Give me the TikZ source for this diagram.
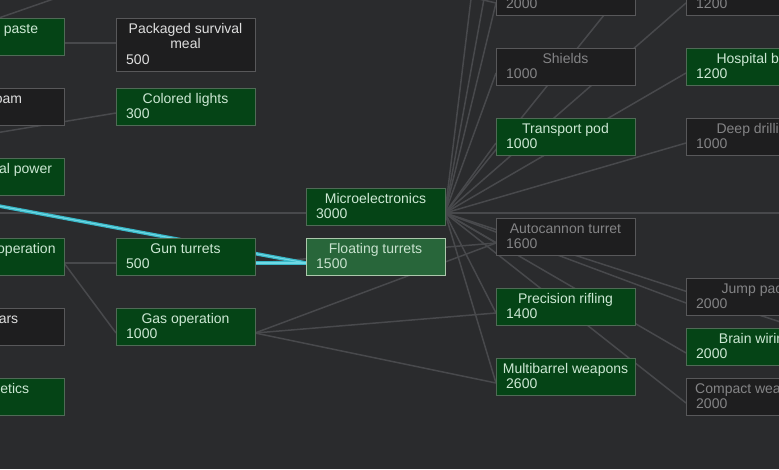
\documentclass[tikz,border=0pt]{standalone}
\usepackage{fontspec}
\setmainfont{Liberation Sans}
\usetikzlibrary{calc}

\definecolor{bg}{RGB}{42,43,45}
\definecolor{donefill}{RGB}{5,68,22}
\definecolor{doneline}{RGB}{80,106,86}
\definecolor{donetext}{RGB}{205,232,212}
\definecolor{openfill}{RGB}{30,30,31}
\definecolor{openline}{RGB}{88,88,90}
\definecolor{opentext}{RGB}{222,222,222}
\definecolor{lockedtext}{RGB}{132,132,134}
\definecolor{pickfill}{RGB}{40,102,58}
\definecolor{pickline}{RGB}{172,200,172}
\definecolor{picktext}{RGB}{200,226,206}
\definecolor{wire}{RGB}{72,73,76}
\definecolor{glow}{RGB}{56,184,200}
\definecolor{glowcore}{RGB}{112,216,228}

\pgfdeclarelayer{back}
\pgfsetlayers{back,main}

% one research box: name, x, top, box style, text colour, title, cost
\newcommand{\tech}[7]{
  \node[box,#4] (#1) at (#2,#3) {};
  \node[title,text=#5] (#1-t) at ({#2+69.5},{#3+15}) {#6};
  \node[cost,text=#5] (#1-c) at ({#2+10},{#3+30}) {#7};
  \coordinate (#1-in) at (#2,{#3+25});
  \coordinate (#1-out) at ({#2+139},{#3+25});
}

\begin{document}
\begin{tikzpicture}[x=1pt, y=-1pt,
  box/.style={anchor=north west, minimum width=139pt, minimum height=37pt,
    inner sep=0pt, line width=1pt},
  done/.style={fill=donefill, draw=doneline},
  open/.style={fill=openfill, draw=openline},
  picked/.style={fill=pickfill, draw=pickline},
  title/.style={anchor=base, inner sep=0pt, font=\fontsize{14}{16}\selectfont},
  cost/.style={anchor=base west, inner sep=0pt, font=\fontsize{14}{16}\selectfont},
  link/.style={draw=wire, line width=1.5pt},
  lit/.style={draw=glow, line width=3.6pt},
  litcore/.style={draw=glowcore, line width=1.1pt}]
  \useasboundingbox (0,0) rectangle (779,469);
  \clip (0,0) rectangle (779,469);

  % column 1 (cut off at the left edge)
  \tech{paste}{-75}{18}{done}{donetext}{Nutrient paste}{}
  \tech{foam}{-75}{88}{open}{opentext}{Firefoam}{}
  \tech{geo}{-75}{158}{done}{donetext}{Geothermal power}{}
  \tech{blow}{-75}{238}{done}{donetext}{Blowback operation}{}
  \tech{mortar}{-75}{308}{open}{opentext}{Mortars}{}
  \tech{prost}{-75}{378}{done}{donetext}{Prosthetics}{}

  % column 2
  \node[box,open,minimum height=53pt] (meal) at (116,18) {};
  \node[title,text=opentext] (meal-t) at (185.5,33) {Packaged survival};
  \node[title,text=opentext] (meal-t2) at (185.5,48.5) {meal};
  \node[cost,text=opentext] (meal-c) at (126,64) {500};
  \coordinate (meal-in) at (116,43);
  \tech{lights}{116}{88}{done}{donetext}{Colored lights}{300}
  \tech{gun}{116}{238}{done}{donetext}{Gun turrets}{500}
  \tech{gas}{116}{308}{done}{donetext}{Gas operation}{1000}

  % column 3
  \tech{micro}{306}{188}{done}{donetext}{Microelectronics}{3000}
  \tech{float}{306}{238}{picked}{picktext}{Floating turrets}{1500}

  % column 4
  \tech{top4}{496}{-22}{open}{lockedtext}{}{2000}
  \tech{shield}{496}{48}{open}{lockedtext}{Shields}{1000}
  \tech{pod}{496}{118}{done}{donetext}{Transport pod}{1000}
  \tech{auto}{496}{218}{open}{lockedtext}{Autocannon turret}{1600}
  \tech{rifle}{496}{288}{done}{donetext}{Precision rifling}{1400}
  \tech{multi}{496}{358}{done}{donetext}{Multibarrel weapons}{2600}

  % column 5 (cut off at the right edge)
  \tech{top5}{686}{-22}{open}{lockedtext}{}{1200}
  \tech{bed}{686}{48}{done}{donetext}{Hospital bed}{1200}
  \tech{drill}{686}{118}{open}{lockedtext}{Deep drilling}{1000}
  \tech{jump}{686}{278}{open}{lockedtext}{Jump pack}{2000}
  \tech{brain}{686}{328}{done}{donetext}{Brain wiring}{2000}
  \tech{compact}{686}{378}{open}{lockedtext}{Compact weaponry}{2000}

  % ends of links that leave the picture
  \coordinate (w0a) at (-125,183);
  \coordinate (w0b) at (-125,213);
  \coordinate (w0c) at (-125,153);
  \coordinate (w0d) at (-125,61);
  \coordinate (w1a) at (65,-5);
  \coordinate (w3a) at (445,-9);
  \coordinate (w4a) at (496,-67);
  \coordinate (w4b) at (496,-207);
  \coordinate (w5a) at (686,-87);
  \coordinate (w6a) at (876,213);
  \coordinate (w6b) at (876,353);

  \begin{pgfonlayer}{back}
    \fill[bg] (0,0) rectangle (779,469);
    % prerequisite links
    \draw[link] (w0d) -- (w1a);
    \draw[link] (paste-out) -- (meal-in);
    \draw[link] (w0c) -- (lights-in);
    \draw[link] (w0b) -- (micro-in);
    \draw[link] (w3a) -- (top4-in);
    \draw[link] (blow-out) -- (gun-in);
    \draw[link] (blow-out) -- (gas-in);
    \draw[link] (gun-out) -- (auto-in);
    \foreach \t in {auto-in, rifle-in, multi-in}
      \draw[link] (gas-out) -- (\t);
    \foreach \t in {w4a, w4b, top4-in, shield-in, w5a, top5-in, pod-in, bed-in,
        drill-in, w6a, auto-in, jump-in, w6b, brain-in, compact-in, rifle-in, multi-in}
      \draw[link] (micro-out) -- (\t);
    % highlighted path to the selected project
    \draw[lit] (w0a) -- (float-in);
    \draw[lit] (gun-out) -- (float-in);
    \draw[litcore] (w0a) -- (float-in);
    \draw[litcore] (gun-out) -- (float-in);
  \end{pgfonlayer}
\end{tikzpicture}
\end{document}
